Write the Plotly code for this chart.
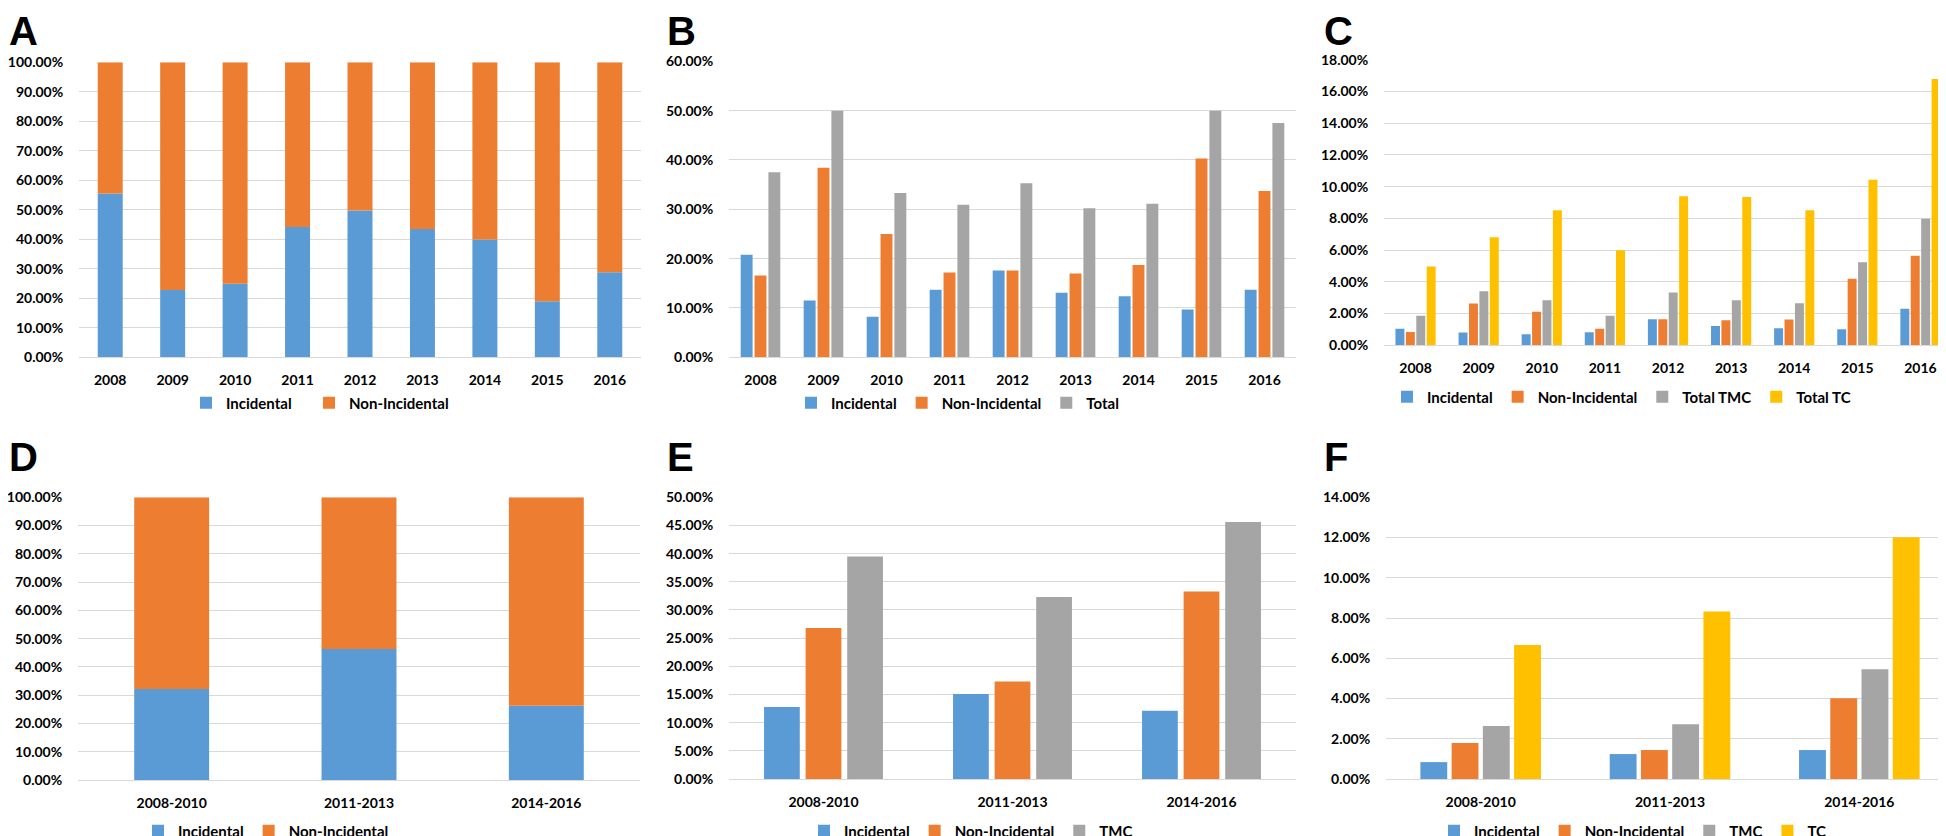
import plotly.graph_objects as go

# ---------------- data ----------------
years = ["2008", "2009", "2010", "2011", "2012", "2013", "2014", "2015", "2016"]
periods = ["2008-2010", "2011-2013", "2014-2016"]

a_incidental = [55.5, 22.8, 24.9, 44.2, 49.8, 43.5, 39.9, 19.0, 28.8]
a_non_incidental = [44.5, 77.2, 75.1, 55.8, 50.2, 56.5, 60.1, 81.0, 71.2]

b_incidental = [20.8, 11.5, 8.2, 13.7, 17.6, 13.1, 12.4, 9.7, 13.7]
b_non_incidental = [16.6, 38.4, 25.0, 17.2, 17.6, 17.0, 18.7, 40.3, 33.7]
b_total = [37.5, 50.0, 33.3, 30.9, 35.3, 30.2, 31.1, 50.0, 47.5]

c_incidental = [1.05, 0.80, 0.69, 0.82, 1.64, 1.22, 1.07, 1.01, 2.31]
c_non_incidental = [0.84, 2.63, 2.12, 1.05, 1.64, 1.58, 1.62, 4.20, 5.65]
c_total_tmc = [1.87, 3.40, 2.84, 1.87, 3.32, 2.84, 2.65, 5.23, 7.98]
c_total_tc = [4.96, 6.81, 8.51, 5.99, 9.39, 9.35, 8.51, 10.44, 16.79]

d_incidental = [32.2, 46.3, 26.3]
d_non_incidental = [67.8, 53.7, 73.7]

e_incidental = [12.8, 15.1, 12.1]
e_non_incidental = [26.8, 17.3, 33.3]
e_tmc = [39.5, 32.3, 45.6]

f_incidental = [0.84, 1.24, 1.44]
f_non_incidental = [1.79, 1.44, 4.01]
f_tmc = [2.63, 2.72, 5.45]
f_tc = [6.66, 8.33, 12.01]

# ---------------- styling ----------------
W, H = 1946, 836
BLUE, ORANGE, GRAY, YELLOW = "#5B9BD5", "#ED7D31", "#A5A5A5", "#FFC000"
GRID = "#D9D9D9"
FAMILY = "Lato, Carlito, Liberation Sans"
TICK_FONT = dict(family=FAMILY, size=14, color="#000000", weight="bold")
LEG_FONT = dict(family=FAMILY, size=15, color="#000000", weight="bold")
LETTER_FONT = dict(family="Liberation Sans, Arial", size=40, color="#000000", weight="bold")

panels = [
    dict(letter="A", lpos=(0, 0), lanchor="top", x=(71, 633), y=(54.3, 349.3), rng=[0, 100], dtick=10,
         cats=years, stacked=True, leg=(178, 395), first_w=78,
         series=[("Incidental", a_incidental, BLUE), ("Non-Incidental", a_non_incidental, ORANGE)]),
    dict(letter="B", lpos=(658, 0), lanchor="top", x=(721, 1288), y=(53.3, 349.3), rng=[0, 60], dtick=10,
         cats=years, stacked=False, leg=(783, 395), first_w=None,
         series=[("Incidental", b_incidental, BLUE), ("Non-Incidental", b_non_incidental, ORANGE),
                 ("Total", b_total, GRAY)]),
    dict(letter="C", lpos=(1315, 0), lanchor="top", x=(1376, 1944), y=(51.7, 337.3), rng=[0, 18], dtick=2,
         cats=years, stacked=False, leg=(1379, 389), first_w=None,
         series=[("Incidental", c_incidental, BLUE), ("Non-Incidental", c_non_incidental, ORANGE),
                 ("Total TMC", c_total_tmc, GRAY), ("Total TC", c_total_tc, YELLOW)]),
    dict(letter="D", lpos=(0, 449), lanchor="middle", x=(70, 632), y=(489.3, 772), rng=[0, 100], dtick=10,
         cats=periods, stacked=True, leg=(130, 823), first_w=None,
         series=[("Incidental", d_incidental, BLUE), ("Non-Incidental", d_non_incidental, ORANGE)]),
    dict(letter="E", lpos=(658, 449), lanchor="middle", x=(721, 1288), y=(489.3, 771), rng=[0, 50], dtick=5,
         cats=periods, stacked=False, leg=(796, 823), first_w=None,
         series=[("Incidental", e_incidental, BLUE), ("Non-Incidental", e_non_incidental, ORANGE),
                 ("TMC", e_tmc, GRAY)]),
    dict(letter="F", lpos=(1315, 449), lanchor="middle", x=(1378, 1946), y=(489.3, 771), rng=[0, 14], dtick=2,
         cats=periods, stacked=False, leg=(1426, 823), first_w=None,
         series=[("Incidental", f_incidental, BLUE), ("Non-Incidental", f_non_incidental, ORANGE),
                 ("TMC", f_tmc, GRAY), ("TC", f_tc, YELLOW)]),
]

fig = go.Figure()
layout = dict(
    width=W, height=H,
    margin=dict(l=0, r=0, t=0, b=0, autoexpand=False),
    paper_bgcolor="white", plot_bgcolor="white",
    barmode="group", bargap=0.34, bargroupgap=0.14,
    font=TICK_FONT,
    annotations=[],
)

for i, p in enumerate(panels):
    n = i + 1
    sfx = "" if n == 1 else str(n)
    xa, ya, lg = "x" + sfx, "y" + sfx, "legend" + sfx
    base = None
    for k, (name, vals, col) in enumerate(p["series"]):
        kw = {}
        if k == 0 and p["first_w"]:
            kw["legendwidth"] = p["first_w"]
        if p["stacked"]:
            fig.add_trace(go.Bar(x=p["cats"], y=vals, base=base, name=name, marker_color=col,
                                 marker_line_width=0, xaxis=xa, yaxis=ya, legend=lg,
                                 offsetgroup="s" + sfx, width=0.4, **kw))
            base = vals
        else:
            fig.add_trace(go.Bar(x=p["cats"], y=vals, name=name, marker_color=col,
                                 marker_line_width=0, xaxis=xa, yaxis=ya, legend=lg,
                                 offsetgroup="g%s_%d" % (sfx, k), **kw))
    x0, x1 = p["x"]
    y0, y1 = p["y"]
    layout["xaxis" + sfx] = dict(
        domain=[x0 / W, min(x1 / W, 1.0)], anchor=ya, type="category",
        showgrid=False, showline=True, linecolor=GRID, linewidth=1, zeroline=False,
        ticks="outside", ticklen=10, tickcolor="rgba(0,0,0,0)", tickfont=TICK_FONT, fixedrange=True)
    layout["yaxis" + sfx] = dict(
        domain=[1 - y1 / H, 1 - y0 / H], anchor=xa, range=p["rng"], dtick=p["dtick"], tick0=0,
        tickformat=".2f", ticksuffix="%", showgrid=True, gridcolor=GRID, gridwidth=1,
        zeroline=False, showline=False, ticks="outside", ticklen=12,
        tickcolor="rgba(0,0,0,0)", tickfont=TICK_FONT, fixedrange=True)
    lx, ly = p["leg"]
    layout[lg] = dict(orientation="h", x=lx / W, xanchor="left", y=1 - ly / H, yanchor="middle",
                      font=LEG_FONT, bgcolor="rgba(0,0,0,0)", itemwidth=30, traceorder="normal")
    layout["annotations"].append(dict(
        text=p["letter"], x=p["lpos"][0] / W, y=1 - p["lpos"][1] / H, xref="paper", yref="paper",
        xanchor="left", yanchor=p["lanchor"], showarrow=False, font=LETTER_FONT, borderpad=0))

fig.update_layout(**layout)
fig.write_html("out.html")
